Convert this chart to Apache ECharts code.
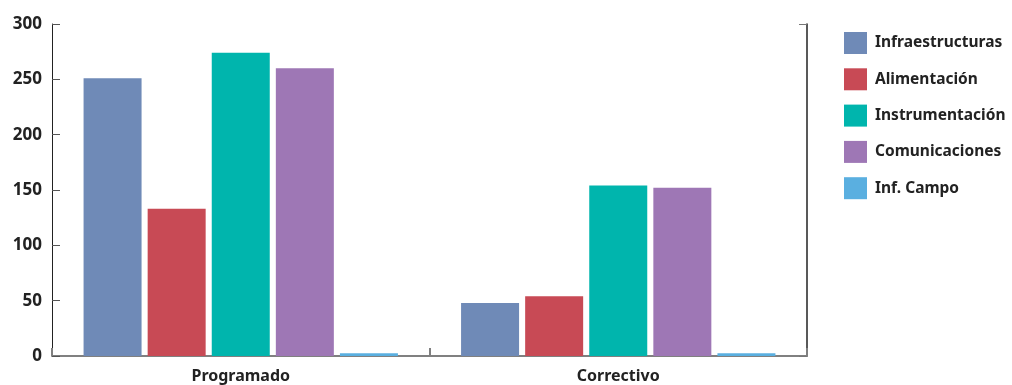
<!DOCTYPE html>
<html>
<head>
<meta charset="utf-8">
<script src="https://cdn.jsdelivr.net/npm/echarts@6/dist/echarts.min.js"></script>
<style>
  html, body { margin: 0; padding: 0; background: #fff; }
  #chart { width: 1012px; height: 385px; }
</style>
</head>
<body>
<div id="chart"></div>
<script>
// datos
var categories = ['Programado', 'Correctivo'];
var seriesNames = ['Infraestructuras', 'Alimentación', 'Instrumentación', 'Comunicaciones', 'Inf. Campo'];
var infraestructuras = [251, 48];
var alimentacion = [133, 54];
var instrumentacion = [274, 154];
var comunicaciones = [260, 152];
var infCampo = [2.5, 2.5];
var colors = ['#6f8ab7', '#c84a55', '#00b5ad', '#9e77b5', '#5aafe0'];

var values = [infraestructuras, alimentacion, instrumentacion, comunicaciones, infCampo];
var font = 'Noto Sans';

var chart = echarts.init(document.getElementById('chart'));

var option = {
  animation: false,
  grid: { left: 52, right: 205, top: 24, bottom: 29 },
  legend: {
    orient: 'vertical',
    left: 844,
    top: 32,
    padding: 0,
    icon: 'rect',
    itemWidth: 23,
    itemHeight: 22,
    itemGap: 14.3,
    data: seriesNames,
    textStyle: { fontFamily: font, fontSize: 15.5, fontWeight: 'bold', color: '#222', padding: [0, 0, 0, 3] }
  },
  xAxis: {
    type: 'category',
    data: categories,
    axisLine: { lineStyle: { color: '#808080', width: 2 } },
    axisTick: { show: true, inside: true, length: 8, lineStyle: { color: '#808080', width: 2 } },
    axisLabel: { fontFamily: font, fontSize: 16, fontWeight: 'bold', color: '#222', margin: 12 }
  },
  yAxis: [{
    type: 'value',
    min: 0,
    max: 300,
    interval: 50,
    axisLine: { show: true, lineStyle: { color: '#222', width: 1 } },
    axisTick: { show: true, inside: true, length: 8, lineStyle: { color: '#555' } },
    splitLine: { show: false },
    axisLabel: { fontFamily: font, fontSize: 17, fontWeight: 'bold', color: '#222', margin: 10 }
  }, {
    type: 'value',
    position: 'right',
    min: 0,
    max: 300,
    interval: 300,
    axisLine: { show: true, lineStyle: { color: '#222', width: 1.5 } },
    axisTick: { show: true, inside: true, length: 8, lineStyle: { color: '#777' } },
    splitLine: { show: false },
    axisLabel: { show: false }
  }],
  series: seriesNames.map(function (name, i) {
    return {
      name: name,
      type: 'bar',
      data: values[i],
      barWidth: 58,
      barGap: '10.5%',
      itemStyle: { color: colors[i] }
    };
  })
};

chart.setOption(option);
</script>
</body>
</html>
